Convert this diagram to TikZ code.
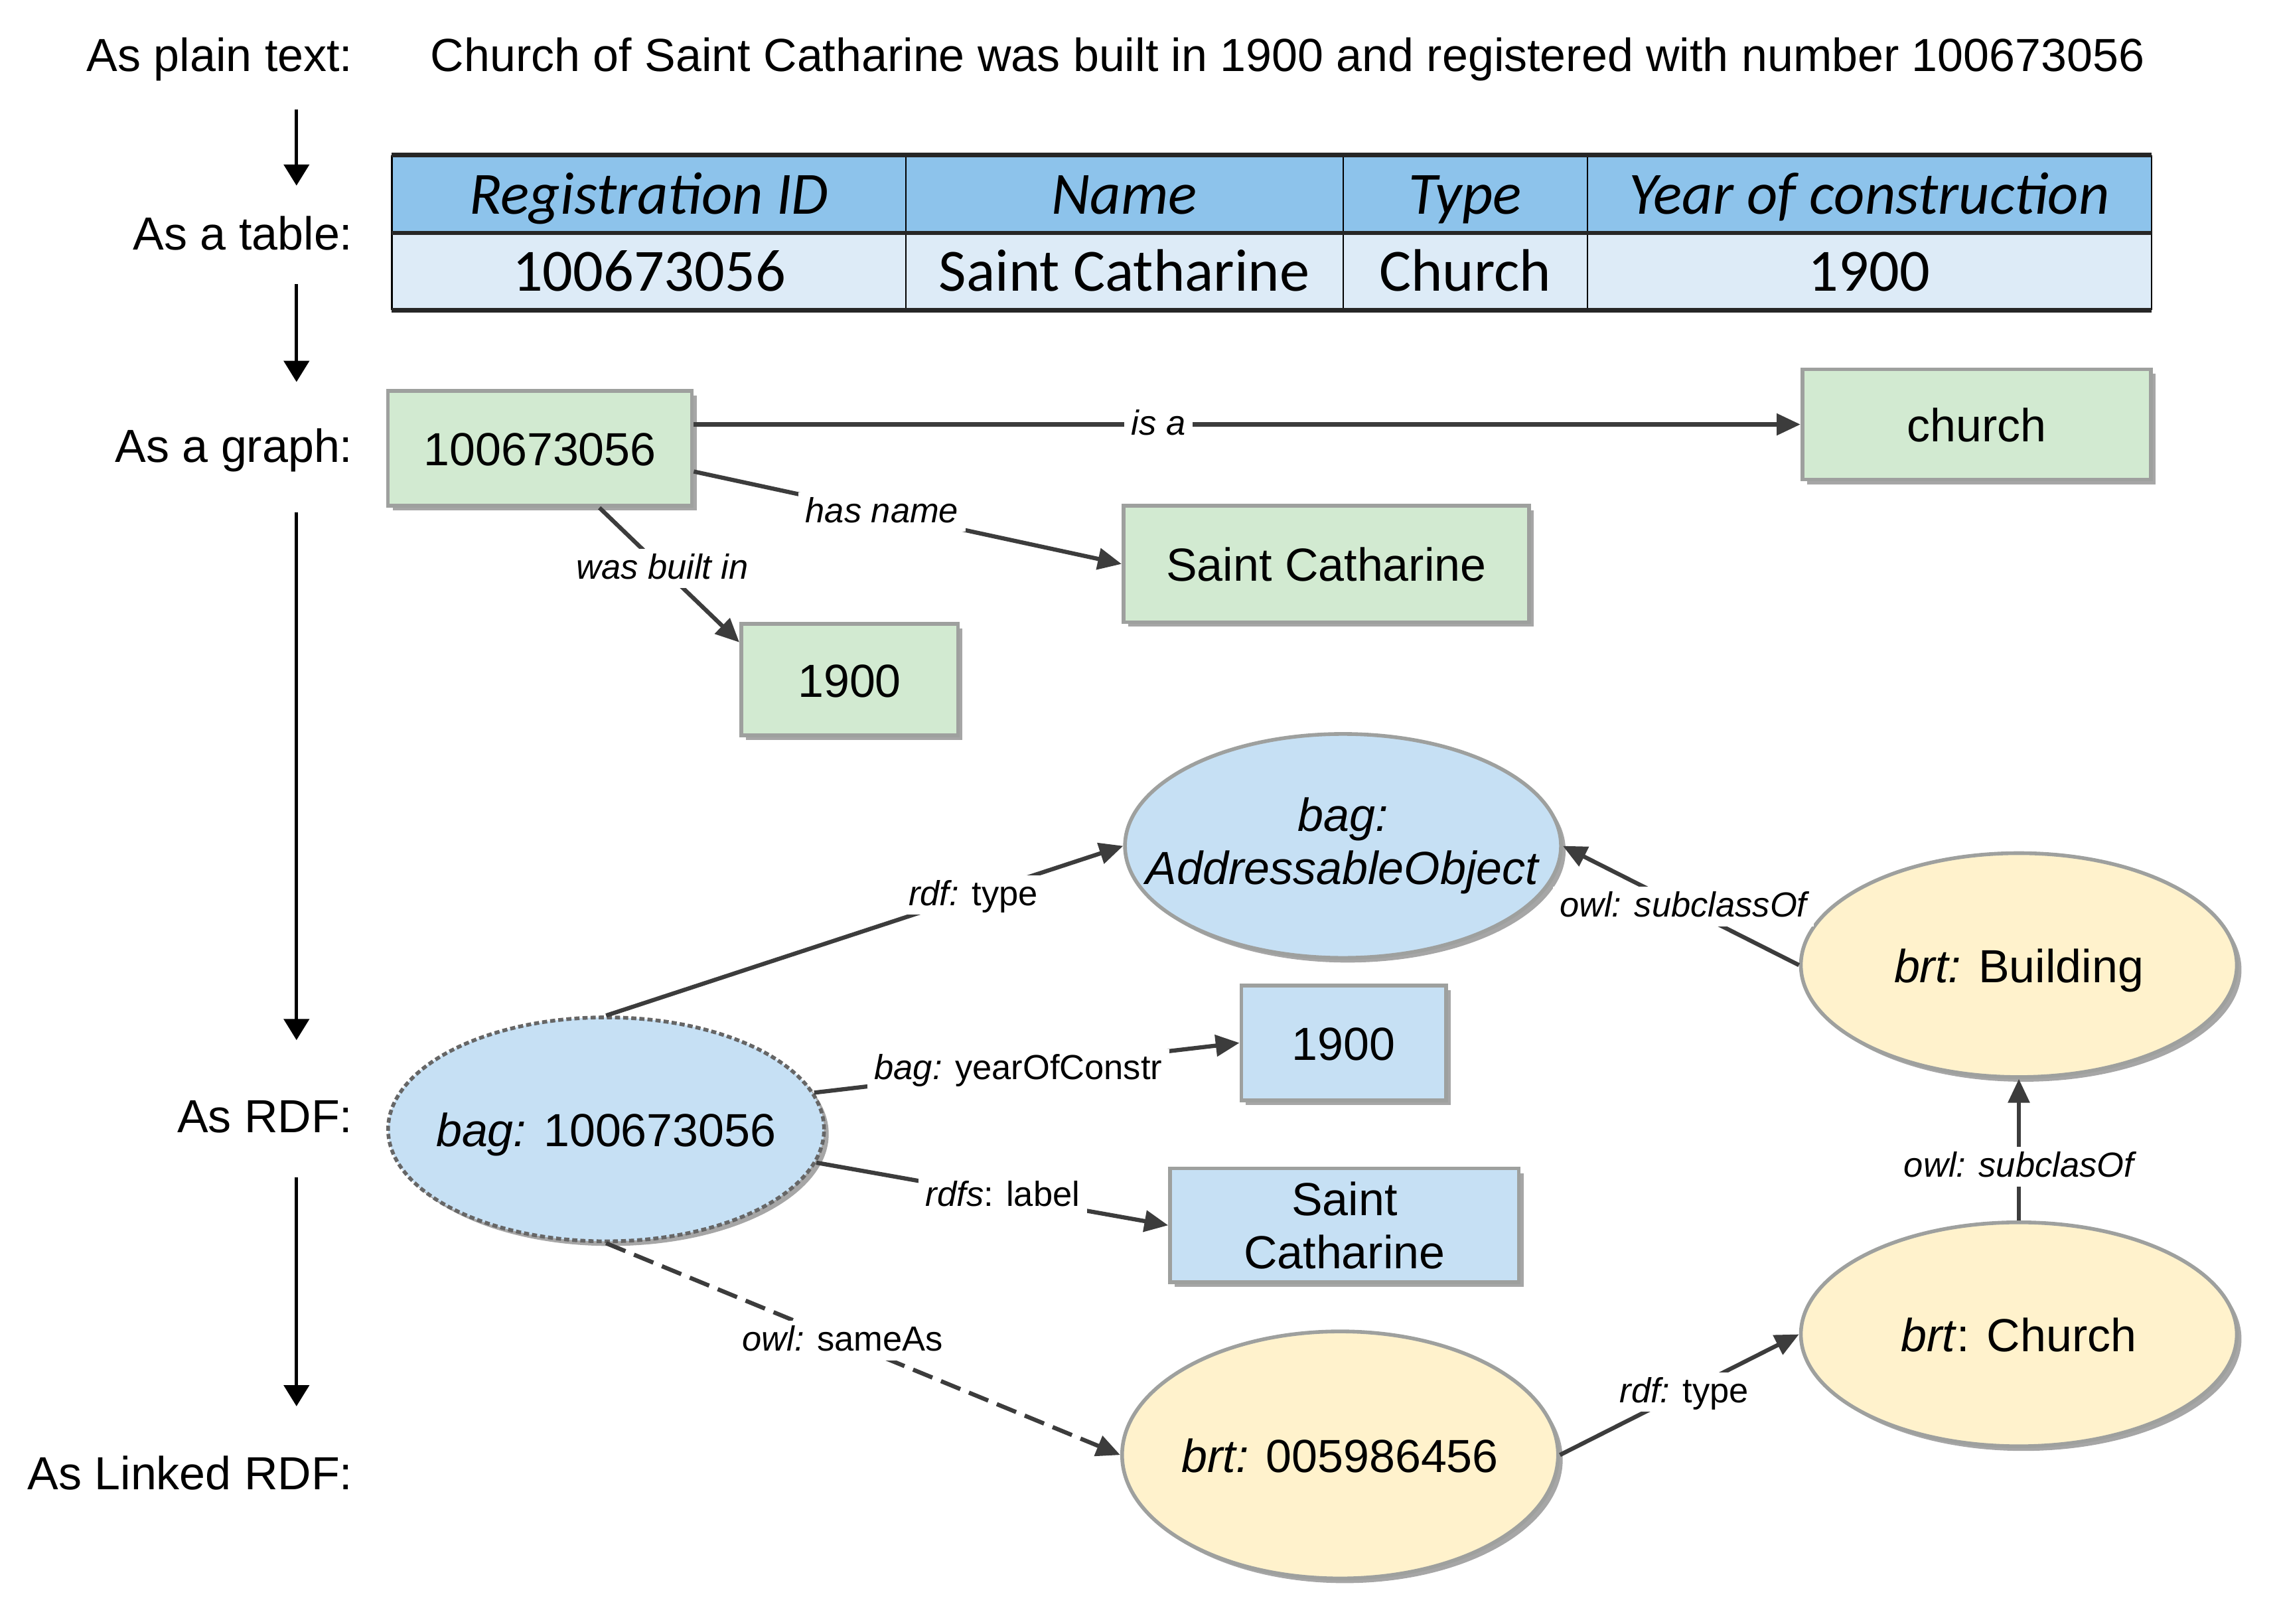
\documentclass[tikz,border=0pt]{standalone}
\usepackage{fontspec}
\setmainfont{Liberation Sans}
\newfontfamily\tablefont{Carlito}
\usetikzlibrary{arrows.meta,shadows,shapes.geometric}
\definecolor{graphgreen}{RGB}{210,234,209}
\definecolor{rdfblue}{RGB}{198,224,244}
\definecolor{brtyellow}{RGB}{255,242,204}
\definecolor{boxborder}{RGB}{158,160,158}
\definecolor{headblue}{RGB}{141,195,235}
\definecolor{rowblue}{RGB}{221,235,247}
\definecolor{edgegray}{RGB}{60,60,60}

\begin{document}
\begin{tikzpicture}[x=0.022cm,y=-0.022cm,
    txt/.style={font=\fontsize{20}{23}\selectfont,inner sep=0pt,
      text height=15pt,text depth=0pt},
    side/.style={txt,anchor=east},
    flow/.style={-{Triangle[length=0.32cm,width=0.38cm]},line width=1.5pt},
    cell/.style={font=\tablefont\fontsize{25.8}{30}\selectfont,inner sep=0pt,
      text height=17pt,text depth=0pt,minimum height=1.166cm},
    shade/.style={drop shadow={shadow xshift=2pt,shadow yshift=-2pt,
        fill=black!35,opacity=1}},
    box/.style={txt,draw=boxborder,line width=1.6pt,shade},
    gbox/.style={box,fill=graphgreen},
    bbox/.style={box,fill=rdfblue},
    ell/.style={ellipse,draw=boxborder,line width=1.6pt,inner sep=0pt,
      minimum width=6.6cm,minimum height=3.39cm,shade},
    edge/.style={draw=edgegray,line width=1.8pt,
      -{Triangle[length=0.36cm,width=0.32cm]}},
    lbl/.style={font=\fontsize{15}{18}\selectfont,fill=white,
      inner xsep=3pt,inner ysep=2pt,text height=11pt,text depth=2pt}]
  \useasboundingbox (0,0) rectangle (1568,1117.3);

  % row captions
  \node[side] (lplain) at (243,37) {As plain text:};
  \node[side] (ltable) at (243,160) {As a table:};
  \node[side] (lgraph) at (243,306) {As a graph:};
  \node[side] (lrdf) at (243,767) {As RDF:};
  \node[side] (llinked) at (243,1013) {As Linked RDF:};
  \coordinate (arrx) at (204,0);
  \foreach \a/\b/\s/\e in {lplain/ltable/0.57/0.44,ltable/lgraph/0.51/0.68,
      lgraph/lrdf/0.75/0.86,lrdf/llinked/0.68/0.73}
    \draw[flow,shorten <=\s cm,shorten >=\e cm] (\a.south -| arrx) -- (\b.north -| arrx);

  \node[txt,anchor=west] (plain) at (296,37)
    {Church of Saint Catharine was built in 1900 and registered with number 100673056};

  % table
  \foreach \i/\x/\w/\head/\val in {1/446.5/7.77/Registration ID/100673056,
      2/773.5/6.62/Name/Saint Catharine,3/1008/3.7/Type/Church,
      4/1286/8.54/Year of construction/1900} {
    \node[cell,fill=headblue,minimum width=\w cm] (h\i) at (\x,133.5)
      {\itshape\head};
    \node[cell,fill=rowblue,minimum width=\w cm] (d\i) at (\x,186.5) {\val};
  }
  \foreach \i in {1,...,4}
    \draw[line width=0.6pt] (h\i.north east) -- (d\i.south east);
  \draw[line width=0.6pt] (h1.north west) -- (d1.south west);
  \draw[line width=1.9pt,black!85] (h1.north west) -- (h4.north east)
    (h1.south west) -- (h4.south east) (d1.south west) -- (d4.south east);

  % graph
  \node[gbox,minimum width=4.6cm,minimum height=1.74cm] (g100) at (371.5,308.5) {100673056};
  \node[gbox,minimum width=5.28cm,minimum height=1.67cm] (gchurch) at (1360,292) {church};
  \node[gbox,minimum width=6.14cm,minimum height=1.76cm] (gname) at (912.5,388) {Saint Catharine};
  \node[gbox,minimum width=3.28cm,minimum height=1.69cm] (gyear) at (584.5,467.5) {1900};
  \draw[edge] (g100.east |- gchurch.west) -- node[lbl,pos=0.42] {\itshape is a} (gchurch.west);
  \draw[edge] ([yshift=-0.35cm]g100.east) -- node[lbl,pos=0.44] {\itshape has name} (gname.west);
  \draw[edge] ([xshift=0.9cm]g100.south) -- node[lbl,pos=0.45] {\itshape was built in}
    ([yshift=-0.31cm]gyear.north west);

  % RDF
  \node[ell,fill=rdfblue,
    label={[txt,align=center,text height={},text depth={}]center:{\textit{bag:}\\\textit{AddressableObject}}}]
    (addr) at (924,582) {};
  \node[ell,fill=rdfblue,draw=black!60,dash pattern=on 2.2pt off 1.3pt,
    label={[txt]center:{\textit{bag:} 100673056}}] (bag) at (417,777) {};
  \node[bbox,minimum width=3.1cm,minimum height=1.74cm] (byear) at (924.5,717.5) {1900};
  \node[bbox,align=center,text height={},text depth={},minimum width=5.28cm,
    minimum height=1.72cm] (bname) at (925,843) {Saint\\Catharine};
  \node[ell,fill=brtyellow,label={[txt]center:{\textit{brt:} Building}}] (build) at (1389,664) {};
  \node[ell,fill=brtyellow,label={[txt]center:{\textit{brt}: Church}}] (bchurch) at (1389,918) {};
  \node[ell,fill=brtyellow,minimum height=3.74cm,
    label={[txt]center:{\textit{brt:} 005986456}}] (brt) at (922,1001) {};

  \draw[edge] (bag.north) -- node[lbl,pos=0.71] {\textit{rdf:} type} (addr.west);
  \draw[edge] (bag.10) -- node[lbl,pos=0.48] {\textit{bag:} yearOfConstr} (byear.west);
  \draw[edge] (bag.-9) -- node[lbl,pos=0.53] {\textit{rdfs}: label} (bname.west);
  \draw[edge,dash pattern=on 9pt off 4pt] (bag.south) -- node[lbl,pos=0.46] {\textit{owl:} sameAs} (brt.west);
  \draw[edge] (brt.east) -- node[lbl,pos=0.52] {\textit{rdf:} type} (bchurch.west);
  \draw[edge] (bchurch.north) -- node[lbl,pos=0.38] {\itshape owl: subclasOf} (build.south);
  \draw[edge] (build.west) -- node[lbl,pos=0.49] {\itshape owl: subclassOf} (addr.east);
\end{tikzpicture}
\end{document}
